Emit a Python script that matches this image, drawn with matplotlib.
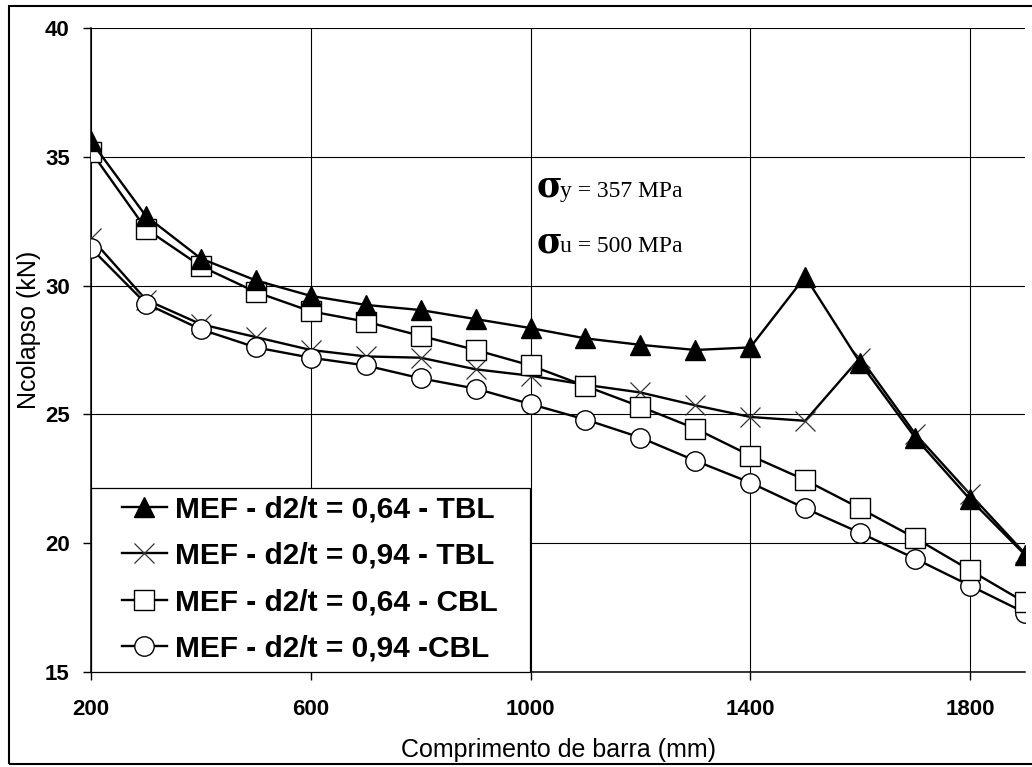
import matplotlib.pyplot as plt
from matplotlib.patches import Rectangle

plt.rcParams['font.family'] = ['Liberation Sans', 'DejaVu Sans']

## data (x = bar length in mm)
comprimento = [200, 300, 400, 500, 600, 700, 800, 900, 1000,
               1100, 1200, 1300, 1400, 1500, 1600, 1700, 1800, 1900]
tbl_064 = [35.6, 32.7, 31.05, 30.2, 29.6, 29.25, 29.05, 28.7, 28.35,
           27.95, 27.7, 27.5, 27.6, 30.35, 27.0, 24.1, 21.7, 19.55]
tbl_094 = [31.85, 29.45, 28.5, 28.0, 27.5, 27.25, 27.2, 26.75, 26.5,
           26.15, 25.85, 25.35, 24.9, 24.75, 27.2, 24.25, 21.9, 19.6]
cbl_064 = [35.2, 32.2, 30.75, 29.75, 29.0, 28.6, 28.05, 27.5, 26.9,
           26.1, 25.3, 24.45, 23.4, 22.45, 21.35, 20.2, 18.95, 17.7]
cbl_094 = [31.45, 29.3, 28.3, 27.6, 27.2, 26.9, 26.4, 26.0, 25.4,
           24.8, 24.1, 23.2, 22.35, 21.35, 20.4, 19.4, 18.35, 17.3]

labels = ['MEF - d2/t = 0,64 - TBL', 'MEF - d2/t = 0,94 - TBL',
          'MEF - d2/t = 0,64 - CBL', 'MEF - d2/t = 0,94 -CBL']
xticks = [200, 600, 1000, 1400, 1800]
yticks = [15, 20, 25, 30, 35, 40]

fig = plt.figure(figsize=(10.32, 7.67), dpi=100)
ax = fig.add_axes([0.0882, 0.1239, 0.9050, 0.8396])

lw = 1.7
c2, = ax.plot(comprimento, tbl_094, color='black', lw=lw, marker='x', ms=15,
              mec='#333333', mew=0.9, zorder=3, label=labels[1])
c4, = ax.plot(comprimento, cbl_094, color='black', lw=lw, marker='o', ms=14,
              mfc='white', mec='black', mew=1.0, zorder=3.4, label=labels[3])
c3, = ax.plot(comprimento, cbl_064, color='black', lw=lw, marker='s', ms=14,
              mfc='white', mec='black', mew=1.0, zorder=3.6, label=labels[2])
c1, = ax.plot(comprimento, tbl_064, color='black', lw=lw, marker='^', ms=15,
              mfc='black', mec='black', zorder=4, label=labels[0])

ax.set_xlim(200, 1900)
ax.set_ylim(15, 40)
ax.set_xticks(xticks)
ax.set_yticks(yticks)
ax.grid(True, color='black', lw=0.8)
ax.tick_params(axis='y', direction='out', length=5.8, width=1, pad=9.5,
               labelsize=16)
ax.tick_params(axis='x', direction='out', length=5.8, width=1, pad=13.5,
               labelsize=16)
for t in ax.get_xticklabels() + ax.get_yticklabels():
    t.set_fontweight('bold')
for s in ['top', 'right']:
    ax.spines[s].set_visible(False)
for s in ['left', 'bottom']:
    ax.spines[s].set_linewidth(1.1)

ax.set_xlabel('Comprimento de barra (mm)', fontsize=18)
ax.set_ylabel('Ncolapso (kN)', fontsize=18)
ax.xaxis.set_label_coords(0.5, -0.103)
ax.yaxis.set_label_coords(-0.054, 0.531)

# legend box (white, covers grid)
ax.add_patch(Rectangle((0, 0), 0.47, 0.2857, transform=ax.transAxes,
                       facecolor='white', edgecolor='black', lw=0.9,
                       zorder=5, clip_on=False))
leg = ax.legend(handles=[c1, c2, c3, c4], loc='center left',
                bbox_to_anchor=(0.0332, 0.1444), frameon=False,
                borderpad=0, borderaxespad=0, handlelength=1.5,
                handletextpad=0.27, labelspacing=0.62,
                prop={'weight': 'bold', 'size': 21.5})
leg.set_zorder(6)

# material annotations
sig = ['DejaVu Serif']
serif = ['Liberation Serif', 'DejaVu Serif']
ax.text(0.4775, 0.7376, '\u03c3', transform=ax.transAxes, family=sig,
        fontweight='bold', fontsize=25, va='baseline', ha='left')
ax.text(0.502, 0.7376, 'y = 357 MPa', transform=ax.transAxes, family=serif,
        fontsize=17, va='baseline', ha='left')
ax.text(0.4775, 0.652, '\u03c3', transform=ax.transAxes, family=sig,
        fontweight='bold', fontsize=25, va='baseline', ha='left')
ax.text(0.502, 0.652, 'u = 500 MPa', transform=ax.transAxes, family=serif,
        fontsize=17, va='baseline', ha='left')

# outer frame of the picture
fig.patches.append(Rectangle((0.0087, 0.0039), 1.0, 0.988,
                             transform=fig.transFigure, fill=False,
                             edgecolor='black', lw=1.5))

fig.savefig('out.png', dpi=100)
